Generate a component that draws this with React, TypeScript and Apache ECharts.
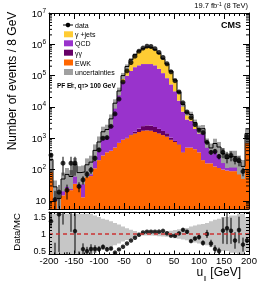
import React, { useEffect, useRef } from "react";
import * as echarts from "echarts";

// ---- data (8 GeV bins, -200 .. 200) ----
const binCenters = [-196, -188, -180, -172, -164, -156, -148, -140, -132, -124, -116, -108, -100, -92, -84, -76, -68, -60, -52, -44, -36, -28, -20, -12, -4, 4, 12, 20, 28, 36, 44, 52, 60, 68, 76, 84, 92, 100, 108, 116, 124, 132, 140, 148, 156, 164, 172, 180, 188, 196];
const binWidth = 8;

const dataCounts = [290, 11, 19, 160, 22, 160, 160, 29, 47, 71, 97, 230, 425, 1000, 1050, 2400, 6000, 17800, 63000, 141000, 263000, 417000, 603000, 759000, 871000, 851000, 724000, 550000, 380000, 240000, 132000, 69000, 30200, 13500, 6900, 4570, 2750, 1820, 1510, 741, 355, 380, 263, 355, 263, 282, 209, 195, 87, 1150];
const dataRelErr = [0.15, 0.9, 0.7, 0.6, 0.5, 0.6, 0.6, 0.35, 0.3, 0.25, 0.25, 0.2, 0.15, 0.12, 0.12, 0.08, 0.05, 0.03, 0.02, 0.015, 0.01, 0.01, 0.01, 0.01, 0.01, 0.01, 0.01, 0.01, 0.01, 0.01, 0.015, 0.02, 0.03, 0.04, 0.05, 0.05, 0.06, 0.08, 0.1, 0.12, 0.15, 0.2, 0.2, 0.35, 0.4, 0.35, 0.3, 0.35, 0.3, 0.1];

const ewk = [120, 10, 4, 15, 25, 22, 35, 28, 13, 60, 62, 110, 200, 282, 355, 398, 501, 708, 891, 1000, 1259, 1413, 1585, 1738, 1778, 1738, 1585, 1413, 1259, 1122, 891, 759, 631, 355, 501, 501, 447, 355, 200, 158, 158, 126, 112, 100, 93, 89, 89, 83, 79, 1202];
const diphoton = [0, 0, 0, 0, 0, 0, 0, 0, 0, 0, 0, 0, 0, 0, 1, 2, 3, 5, 10, 30, 80, 200, 450, 700, 800, 800, 700, 580, 450, 320, 150, 60, 25, 10, 5, 2, 1, 0, 0, 0, 0, 0, 0, 0, 0, 0, 0, 0, 0, 0];
const qcd = [50, 10, 3, 25, 30, 25, 80, 35, 45, 55, 81, 250, 480, 1030, 1160, 2760, 9500, 23300, 62200, 98900, 139800, 184500, 211700, 232000, 231800, 231900, 211500, 164000, 118500, 81700, 51400, 30800, 15200, 6700, 3470, 3040, 1540, 1060, 1380, 400, 240, 440, 335, 180, 107, 140, 140, 75, 38, 116];
const gjets = [40, 8, 5, 10, 15, 13, 32, 17, 26, 27, 30, 50, 80, 300, 390, 1010, 3180, 8370, 36900, 95000, 182300, 281500, 402800, 490000, 578400, 559900, 462300, 346900, 226500, 151200, 85600, 40800, 13700, 4940, 2480, 2210, 1170, 580, 460, 180, 92, 114, 78, 42, 24, 28, 28, 16, 9, 95];
const mcRelUnc = [0.6, 0.6, 0.6, 0.6, 0.6, 0.6, 0.6, 0.6, 0.6, 0.6, 0.6, 0.55, 0.5, 0.45, 0.42, 0.38, 0.33, 0.28, 0.22, 0.17, 0.13, 0.09, 0.05, 0.04, 0.04, 0.04, 0.05, 0.06, 0.07, 0.08, 0.1, 0.12, 0.14, 0.16, 0.18, 0.22, 0.25, 0.28, 0.3, 0.33, 0.38, 0.42, 0.45, 0.5, 0.5, 0.55, 0.55, 0.6, 0.6, 0.5];

const legendEntries = ["γ +jets", "QCD", "γγ", "EWK", "uncertainties"];

const Y_MIN = 5.5;
const Y_MAX = 1e7;
const R_MIN = 0.4;
const R_MAX = 1.65;
const FONT = "'Liberation Sans', Arial, Helvetica, sans-serif";

const C_GJ = "#ffcc33";
const C_QCD = "#9933cc";
const C_GG = "#660066";
const C_EWK = "#ff6600";
const C_UNC = "#a0a0a0";
const C_RUNC = "#c6c6c6";

export default function App() {
  const ref = useRef<HTMLDivElement>(null);

  useEffect(() => {
    const chart = echarts.init(ref.current!, null, { renderer: "svg" });

    const n = binCenters.length;
    const lo = binCenters.map((c) => c - binWidth / 2);
    const hi = binCenters.map((c) => c + binWidth / 2);
    const cum1 = ewk.slice();
    const cum2 = cum1.map((v, i) => v + diphoton[i]);
    const cum3 = cum2.map((v, i) => v + qcd[i]);
    const total = cum3.map((v, i) => v + gjets[i]);

    const layer = (bottom: number[] | null, top: number[]) => {
      const out: number[][] = [];
      for (let i = 0; i < n; i++) {
        const b = Math.max(bottom ? bottom[i] : Y_MIN, Y_MIN);
        const t = top[i];
        if (t > b) out.push([lo[i], hi[i], b, t]);
      }
      return out;
    };

    const rectSeries = (items: number[][], color: string, xi: number, yi: number) => ({
      type: "custom",
      xAxisIndex: xi,
      yAxisIndex: yi,
      clip: true,
      silent: true,
      data: items,
      encode: { x: [0, 1], y: [2, 3] },
      renderItem: (_p: any, api: any) => {
        const p0 = api.coord([api.value(0), api.value(3)]);
        const p1 = api.coord([api.value(1), api.value(2)]);
        return {
          type: "rect",
          shape: { x: p0[0], y: p0[1], width: p1[0] - p0[0], height: p1[1] - p0[1] },
          style: { fill: color },
        };
      },
    });

    const errSeries = (items: number[][], xi: number, yi: number) => ({
      type: "custom",
      xAxisIndex: xi,
      yAxisIndex: yi,
      clip: true,
      silent: true,
      data: items,
      encode: { x: 0, y: [1, 2] },
      renderItem: (_p: any, api: any) => {
        const a = api.coord([api.value(0), api.value(1)]);
        const b = api.coord([api.value(0), api.value(2)]);
        return {
          type: "line",
          shape: { x1: a[0], y1: a[1], x2: b[0], y2: b[1] },
          style: { stroke: "#000", lineWidth: 1 },
        };
      },
    });

    // main panel items
    const bandMain = total.map((t, i) => [lo[i], hi[i], Math.max(t * (1 - mcRelUnc[i]), Y_MIN), t * (1 + mcRelUnc[i])]);
    const stepLine: number[][] = [];
    for (let i = 0; i < n; i++) {
      stepLine.push([lo[i], total[i]]);
      stepLine.push([hi[i], total[i]]);
    }
    const dataErrMain = dataCounts.map((d, i) => [binCenters[i], Math.max(d * (1 - dataRelErr[i]), Y_MIN), d * (1 + dataRelErr[i])]);
    const dataPts = dataCounts.map((d, i) => [binCenters[i], d]);

    // ratio panel
    const ratio = dataCounts.map((d, i) => d / total[i]);
    const bandRatio = mcRelUnc.map((u, i) => [lo[i], hi[i], Math.max(1 - u, R_MIN), Math.min(1 + u, R_MAX)]);
    const ratioErr = ratio.map((r, i) => [binCenters[i], r * (1 - dataRelErr[i]), r * (1 + dataRelErr[i])]);
    const ratioPts = ratio.map((r, i) => [binCenters[i], r]);

    // log minor ticks
    const minorVals: number[][] = [];
    for (let e = 0; e < 7; e++) {
      for (let k = 2; k <= 9; k++) {
        const v = k * Math.pow(10, e);
        if (v > Y_MIN && v < Y_MAX) minorVals.push([0, v]);
      }
    }

    const mkX = (gridIndex: number, position: string, labels: boolean, tl: number, ml: number) => ({
      type: "value",
      gridIndex,
      position,
      min: -200,
      max: 200,
      interval: 50,
      z: 10,
      axisLine: { show: true, onZero: false, lineStyle: { color: "#000", width: 1 } },
      axisTick: { show: true, inside: true, length: tl, lineStyle: { color: "#000", width: 1 } },
      minorTick: { show: true, splitNumber: 5, length: ml, lineStyle: { color: "#000", width: 1 } },
      axisLabel: { show: labels, fontSize: 9.5, lineHeight: 8, color: "#000", fontFamily: FONT, margin: 1.5 },
      splitLine: { show: false },
      minorSplitLine: { show: false },
    });

    const logFmt = (v: number) => {
      const e = Math.log10(v);
      const r = Math.round(e);
      if (Math.abs(e - r) > 1e-6) return "";
      if (r === 1) return "10";
      return "10{sup|" + r + "}";
    };

    const mkLogY = (position: string, labels: boolean) => ({
      type: "log",
      logBase: 10,
      gridIndex: 0,
      position,
      min: Y_MIN,
      max: Y_MAX,
      z: 10,
      axisLine: { show: true, onZero: false, lineStyle: { color: "#000", width: 1 } },
      axisTick: { show: true, inside: true, length: 6, lineStyle: { color: "#000", width: 1 } },
      minorTick: { show: false },
      splitLine: { show: false },
      axisLabel: {
        show: labels,
        formatter: logFmt,
        fontSize: 9.5,
        lineHeight: 13,
        color: "#000",
        fontFamily: FONT,
        margin: 3,
        rich: { sup: { fontSize: 6.5, verticalAlign: "top", fontFamily: FONT, color: "#000" } },
      },
    });

    const rFmt = (v: number) => {
      if (Math.abs(v - 0.5) < 1e-6) return "0.5";
      if (Math.abs(v - 1) < 1e-6) return "1";
      if (Math.abs(v - 1.5) < 1e-6) return "1.5";
      return "";
    };

    const mkRY = (position: string, labels: boolean) => ({
      type: "value",
      gridIndex: 1,
      position,
      min: R_MIN,
      max: R_MAX,
      interval: 0.1,
      z: 10,
      axisLine: { show: true, onZero: false, lineStyle: { color: "#000", width: 1 } },
      axisTick: { show: true, inside: true, length: 3, lineStyle: { color: "#000", width: 1 } },
      splitLine: { show: false },
      axisLabel: { show: labels, formatter: rFmt, fontSize: 9, lineHeight: 8, color: "#000", fontFamily: FONT, margin: 3 },
    });

    const txt = (text: string, x: number, y: number, size: number, extra: any = {}) => ({
      type: "text",
      x,
      y,
      z: 20,
      style: {
        text,
        fontSize: size,
        fontFamily: FONT,
        fill: "#000",
        textAlign: "left",
        textVerticalAlign: "middle",
        ...extra,
      },
    });

    const legendColors = [C_GJ, C_QCD, C_GG, C_EWK, C_UNC];
    const legendY = [34.3, 43.3, 52.7, 62.5, 72];
    const legendGraphics: any[] = [
      { type: "line", z: 20, shape: { x1: 63, y1: 25, x2: 73, y2: 25 }, style: { stroke: "#000", lineWidth: 1 } },
      { type: "circle", z: 20, shape: { cx: 68, cy: 25, r: 2.3 }, style: { fill: "#000" } },
      txt("data", 75, 25.5, 7),
    ];
    legendEntries.forEach((name, i) => {
      legendGraphics.push({ type: "rect", z: 20, shape: { x: 64, y: legendY[i] - 3, width: 9, height: 6 }, style: { fill: legendColors[i] } });
      legendGraphics.push(txt(name, 75, legendY[i] + 0.5, 7));
    });

    const option: any = {
      animation: false,
      grid: [
        { left: 49, top: 13, width: 200, height: 196, show: false },
        { left: 49, top: 212, width: 200, height: 42.5, show: false },
      ],
      xAxis: [mkX(0, "bottom", false, 6, 3), mkX(0, "top", false, 6, 3), mkX(1, "bottom", true, 4, 2), mkX(1, "top", false, 4, 2)],
      yAxis: [mkLogY("left", true), mkLogY("right", false), mkRY("left", true), mkRY("right", false)],
      series: [
        rectSeries(layer(null, cum1), C_EWK, 0, 0),
        rectSeries(layer(cum1, cum2), C_GG, 0, 0),
        rectSeries(layer(cum2, cum3), C_QCD, 0, 0),
        rectSeries(layer(cum3, total), C_GJ, 0, 0),
        rectSeries(bandMain, C_UNC, 0, 0),
        {
          type: "line",
          xAxisIndex: 0,
          yAxisIndex: 0,
          data: stepLine,
          symbol: "none",
          silent: true,
          lineStyle: { color: "#000", width: 1 },
        },
        errSeries(dataErrMain, 0, 0),
        {
          type: "scatter",
          xAxisIndex: 0,
          yAxisIndex: 0,
          data: dataPts,
          symbol: "circle",
          symbolSize: 5,
          clip: true,
          silent: true,
          itemStyle: { color: "#000" },
        },
        {
          type: "custom",
          xAxisIndex: 0,
          yAxisIndex: 0,
          silent: true,
          z: 11,
          data: minorVals,
          encode: { x: 0, y: 1 },
          renderItem: (_p: any, api: any) => {
            const a = api.coord([-200, api.value(1)]);
            const b = api.coord([200, api.value(1)]);
            return {
              type: "group",
              children: [
                { type: "line", shape: { x1: a[0], y1: a[1], x2: a[0] + 3, y2: a[1] }, style: { stroke: "#000", lineWidth: 1 } },
                { type: "line", shape: { x1: b[0] - 3, y1: b[1], x2: b[0], y2: b[1] }, style: { stroke: "#000", lineWidth: 1 } },
              ],
            };
          },
        },
        // ratio
        rectSeries(bandRatio, C_RUNC, 2, 2),
        {
          type: "line",
          xAxisIndex: 2,
          yAxisIndex: 2,
          data: [[-200, 1], [200, 1]],
          symbol: "none",
          silent: true,
          lineStyle: { color: "#cc3333", width: 1.5, type: [4, 3] },
        },
        errSeries(ratioErr, 2, 2),
        {
          type: "scatter",
          xAxisIndex: 2,
          yAxisIndex: 2,
          data: ratioPts,
          symbol: "circle",
          symbolSize: 4.5,
          clip: true,
          silent: true,
          itemStyle: { color: "#000" },
        },
      ],
      graphic: [
        ...legendGraphics,
        txt("19.7 fb{sup|-1} (8 TeV)", 248, 5.5, 7.5, {
          textAlign: "right",
          rich: { sup: { fontSize: 5, verticalAlign: "top", fontFamily: FONT, fill: "#000" } },
        }),
        txt("CMS", 241, 24.5, 9, { textAlign: "right", fontWeight: "bold" }),
        txt("PF E\u0338{sub|T}, q{sub|T}> 100 GeV", 57, 85, 6.5, {
          fontWeight: "bold",
          rich: { sub: { fontSize: 4.5, verticalAlign: "bottom", fontFamily: FONT, fontWeight: "bold", fill: "#000" } },
        }),
        {
          type: "text",
          x: 12,
          y: 81,
          rotation: Math.PI / 2,
          z: 20,
          style: { text: "Number of events / 8 GeV", fontSize: 12, fontFamily: FONT, fill: "#000", textAlign: "center", textVerticalAlign: "middle" },
        },
        {
          type: "text",
          x: 16,
          y: 232,
          rotation: Math.PI / 2,
          z: 20,
          style: { text: "Data/MC", fontSize: 9.5, fontFamily: FONT, fill: "#000", textAlign: "center", textVerticalAlign: "middle" },
        },
        txt("u", 196.5, 272, 12),
        txt("||", 203.5, 277.5, 6),
        txt("[GeV]", 241, 272, 12, { textAlign: "right" }),
      ],
    };

    chart.setOption(option);
    return () => chart.dispose();
  }, []);

  return <div ref={ref} style={{ position: "fixed", left: 0, top: 0, width: 266, height: 282 }} />;
}
